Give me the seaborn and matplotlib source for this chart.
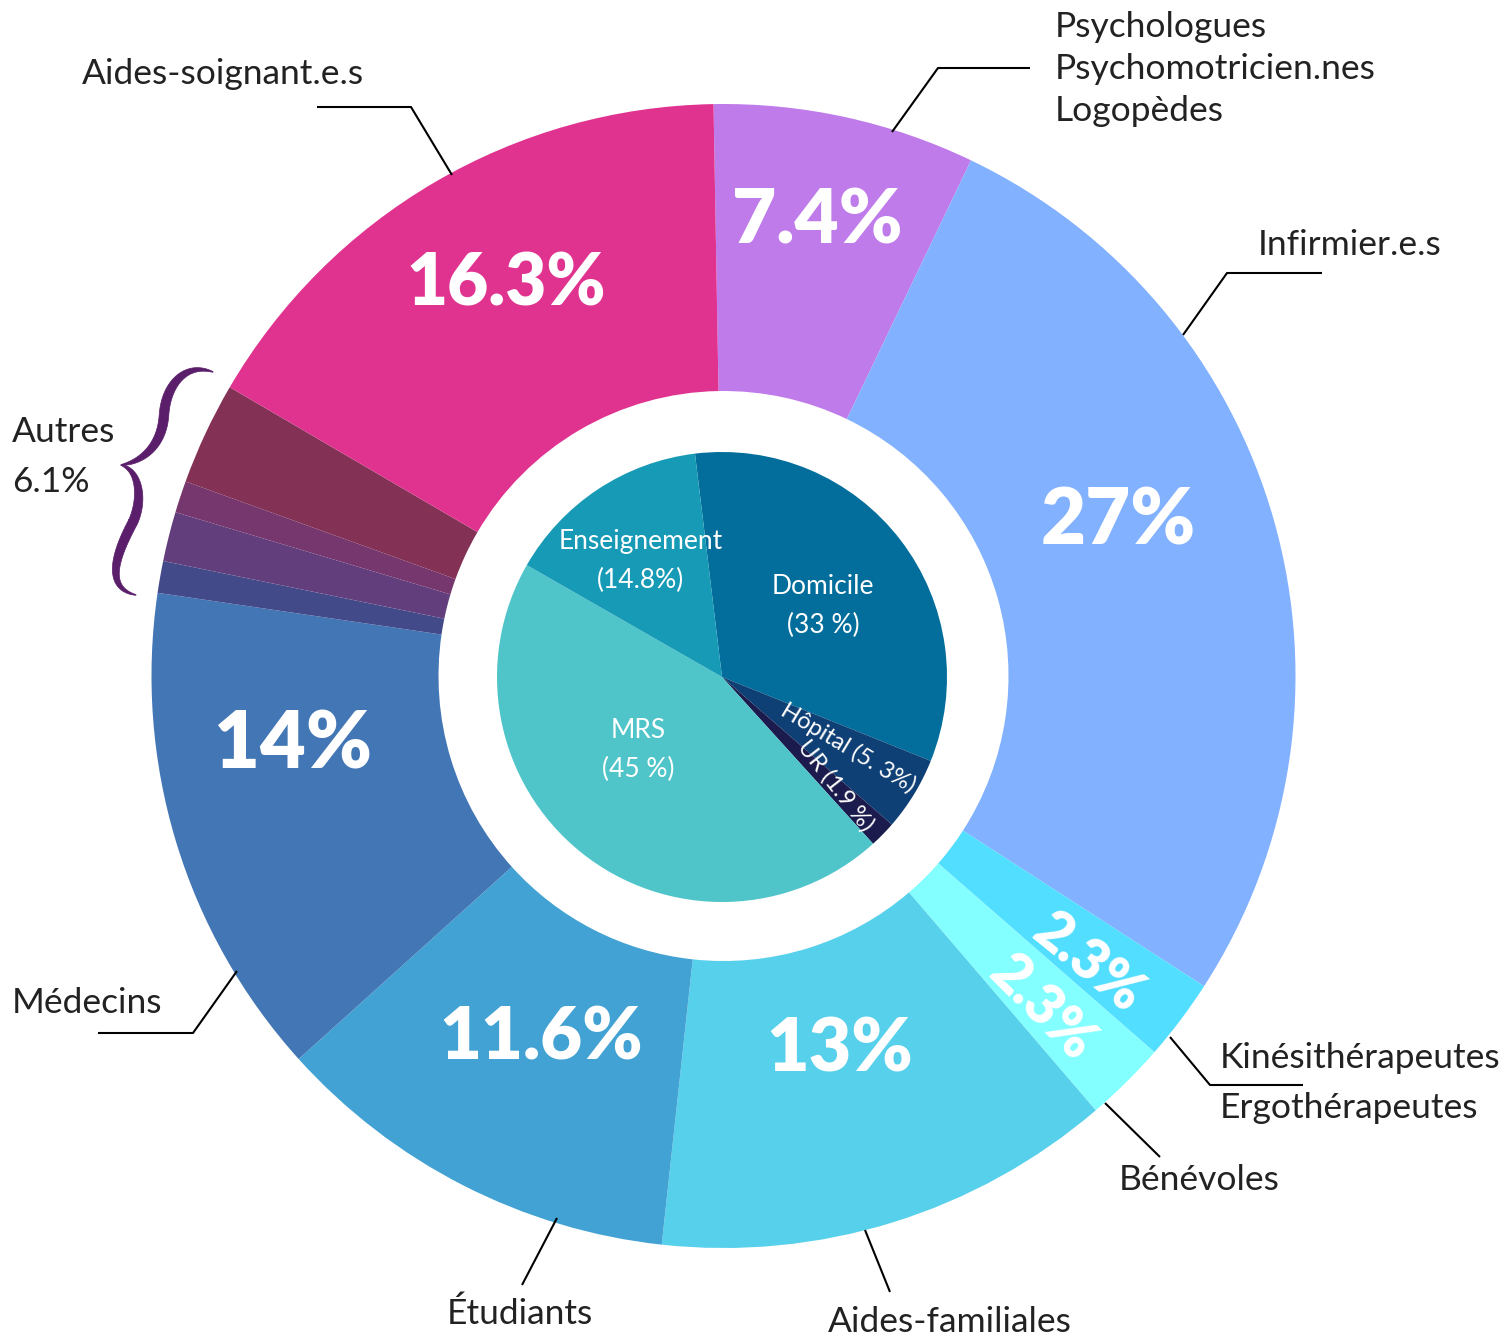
import numpy as np
import matplotlib
matplotlib.use("Agg")
import matplotlib.pyplot as plt
import seaborn as sns
from matplotlib.patches import Polygon

# outer ring: professions (clockwise from top)
outer_labels = ["Psychologues", "Infirmier.e.s", "Kinésithérapeutes", "Bénévoles",
                "Aides-familiales", "Étudiants", "Médecins",
                "Autres 1", "Autres 2", "Autres 3", "Autres 4", "Aides-soignant.e.s"]
outer_values = [7.4, 27, 2.3, 2.3, 13, 11.6, 14, 0.9, 1.4, 0.9, 2.9, 16.3]
outer_colors = ["#BF7BEA", "#82B1FF", "#52DEFF", "#84FFFF", "#57D0EC", "#42A2D3",
                "#4276B4", "#434A8A", "#623F7C", "#76366E", "#833256", "#E03390"]
outer_pct = ["7.4%", "27%", "2.3%", "2.3%", "13%", "11.6%", "14%", "", "", "", "", "16.3%"]

# inner pie: places (clockwise from top)
inner_labels = ["Domicile", "Hôpital", "UR", "MRS", "Enseignement"]
inner_values = [33, 5.3, 1.9, 45, 14.8]
inner_colors = ["#036E9B", "#0E3F75", "#1B1B4D", "#4FC5CA", "#179AB6"]

W, H = 1508, 1338
sns.set_theme(style="white")
plt.rcParams['font.family'] = ['Lato', 'DejaVu Sans']

fig = plt.figure(figsize=(W / 100, H / 100), dpi=100)
ax = fig.add_axes([0, 0, 1, 1])


def Y(y):
    return H - y


cx, cy = 723.5, Y(676)
ax.pie(outer_values, colors=outer_colors, startangle=91, counterclock=False,
       radius=572, center=(cx, cy), frame=True,
       wedgeprops=dict(width=287, edgecolor='none', linewidth=0))
ax.pie(inner_values, colors=inner_colors, startangle=96.9, counterclock=False,
       radius=225, center=(722, Y(677)), frame=True,
       wedgeprops=dict(edgecolor='none', linewidth=0))
ax.set_xlim(0, W)
ax.set_ylim(0, H)
ax.set_aspect('equal')
ax.axis('off')

# big percentages
big = dict(color='white', fontweight='heavy', ha='center', va='center')
pct_pos = {0: (817, 222, 0, 55), 1: (1118, 522, 0, 56), 2: (1088, 963, -39, 40),
           3: (1042, 1008, -45, 40), 4: (840, 1050, 0, 53), 5: (541, 1038, 0, 52),
           6: (293, 745, 0, 57), 11: (506, 285, 0, 51)}
for i, (x, y, rot, fs) in pct_pos.items():
    ax.text(x, Y(y), outer_pct[i], fontsize=fs, rotation=rot,
            rotation_mode='anchor', **big)

# inner labels
inn = dict(color='white', ha='center', va='center', fontsize=19)
ax.text(823, Y(587), "Domicile", **inn)
ax.text(823, Y(625), "(33 %)", **inn)
ax.text(641, Y(542), "Enseignement", **inn)
ax.text(641, Y(580), "(14.8%)", **inn)
ax.text(638, Y(731), "MRS", **inn)
ax.text(638, Y(769), "(45 %)", **inn)
ax.text(848, Y(748), "Hôpital (5. 3%)", rotation=-31, rotation_mode='anchor',
        **dict(inn, fontsize=17))
ax.text(836, Y(786), "UR (1.9 %)", rotation=-52, rotation_mode='anchor',
        **dict(inn, fontsize=17))

# outer labels
lab = dict(color='#222222', fontsize=25.5, va='center')
ax.text(82, Y(74), "Aides-soignant.e.s", ha='left', **lab)
ax.text(1055, Y(27), "Psychologues", ha='left', **lab)
ax.text(1055, Y(69), "Psychomotricien.nes", ha='left', **lab)
ax.text(1055, Y(111), "Logopèdes", ha='left', **lab)
ax.text(1258, Y(245), "Infirmier.e.s", ha='left', **lab)
ax.text(1220, Y(1058), "Kinésithérapeutes", ha='left', **lab)
ax.text(1220, Y(1108), "Ergothérapeutes", ha='left', **lab)
ax.text(1119, Y(1180), "Bénévoles", ha='left', **lab)
ax.text(950, Y(1322), "Aides-familiales", ha='center', **lab)
ax.text(520, Y(1314), "Étudiants", ha='center', **lab)
ax.text(12, Y(1003), "Médecins", ha='left', **lab)
ax.text(12, Y(432), "Autres", ha='left', **lab)
ax.text(12, Y(482), "6.1%", ha='left', **lab)

# leader lines
leaders = [
    [(317, 107), (411, 107), (452, 175)],
    [(892, 132), (938, 68), (1030, 68)],
    [(1183, 335), (1227, 273), (1322, 273)],
    [(1170, 1037), (1210, 1085), (1303, 1085)],
    [(1105, 1103), (1160, 1157)],
    [(865, 1230), (890, 1292)],
    [(557, 1218), (522, 1285)],
    [(237, 971), (193, 1033), (98, 1033)],
]
for pts in leaders:
    ax.plot([p[0] for p in pts], [Y(p[1]) for p in pts],
            color='black', lw=1.5, solid_capstyle='butt')


# curly brace for "Autres": calligraphic stroke along bezier segments
def bez(p0, p1, p2, p3, n=40):
    t = np.linspace(0, 1, n)[:, None]
    return ((1 - t) ** 3 * np.array(p0) + 3 * (1 - t) ** 2 * t * np.array(p1)
            + 3 * (1 - t) * t ** 2 * np.array(p2) + t ** 3 * np.array(p3))


def stroke(segs, wmax):
    pts = np.vstack([bez(*s) for s in segs])
    pts[:, 1] = H - pts[:, 1]
    d = np.gradient(pts, axis=0)
    nrm = np.column_stack([-d[:, 1], d[:, 0]])
    nrm /= np.linalg.norm(nrm, axis=1)[:, None]
    t = np.linspace(0, 1, len(pts))
    w = wmax * np.sin(np.pi * t) ** 0.8 + 0.6
    left = pts + nrm * w[:, None] / 2
    right = pts - nrm * w[:, None] / 2
    return np.vstack([left, right[::-1]])


upper = [((213, 372), (186, 362), (166, 384), (164, 415)),
         ((164, 415), (162, 446), (142, 462), (121, 465))]
lower = [((121, 465), (140, 470), (143, 500), (133, 522)),
         ((133, 522), (117, 552), (103, 588), (136, 595))]
for segs in (upper, lower):
    ax.add_patch(Polygon(stroke(segs, 9), closed=True, facecolor='#5A1E6B',
                         edgecolor='#5A1E6B', lw=0.5))

fig.savefig("out.png", dpi=100, facecolor='white')
